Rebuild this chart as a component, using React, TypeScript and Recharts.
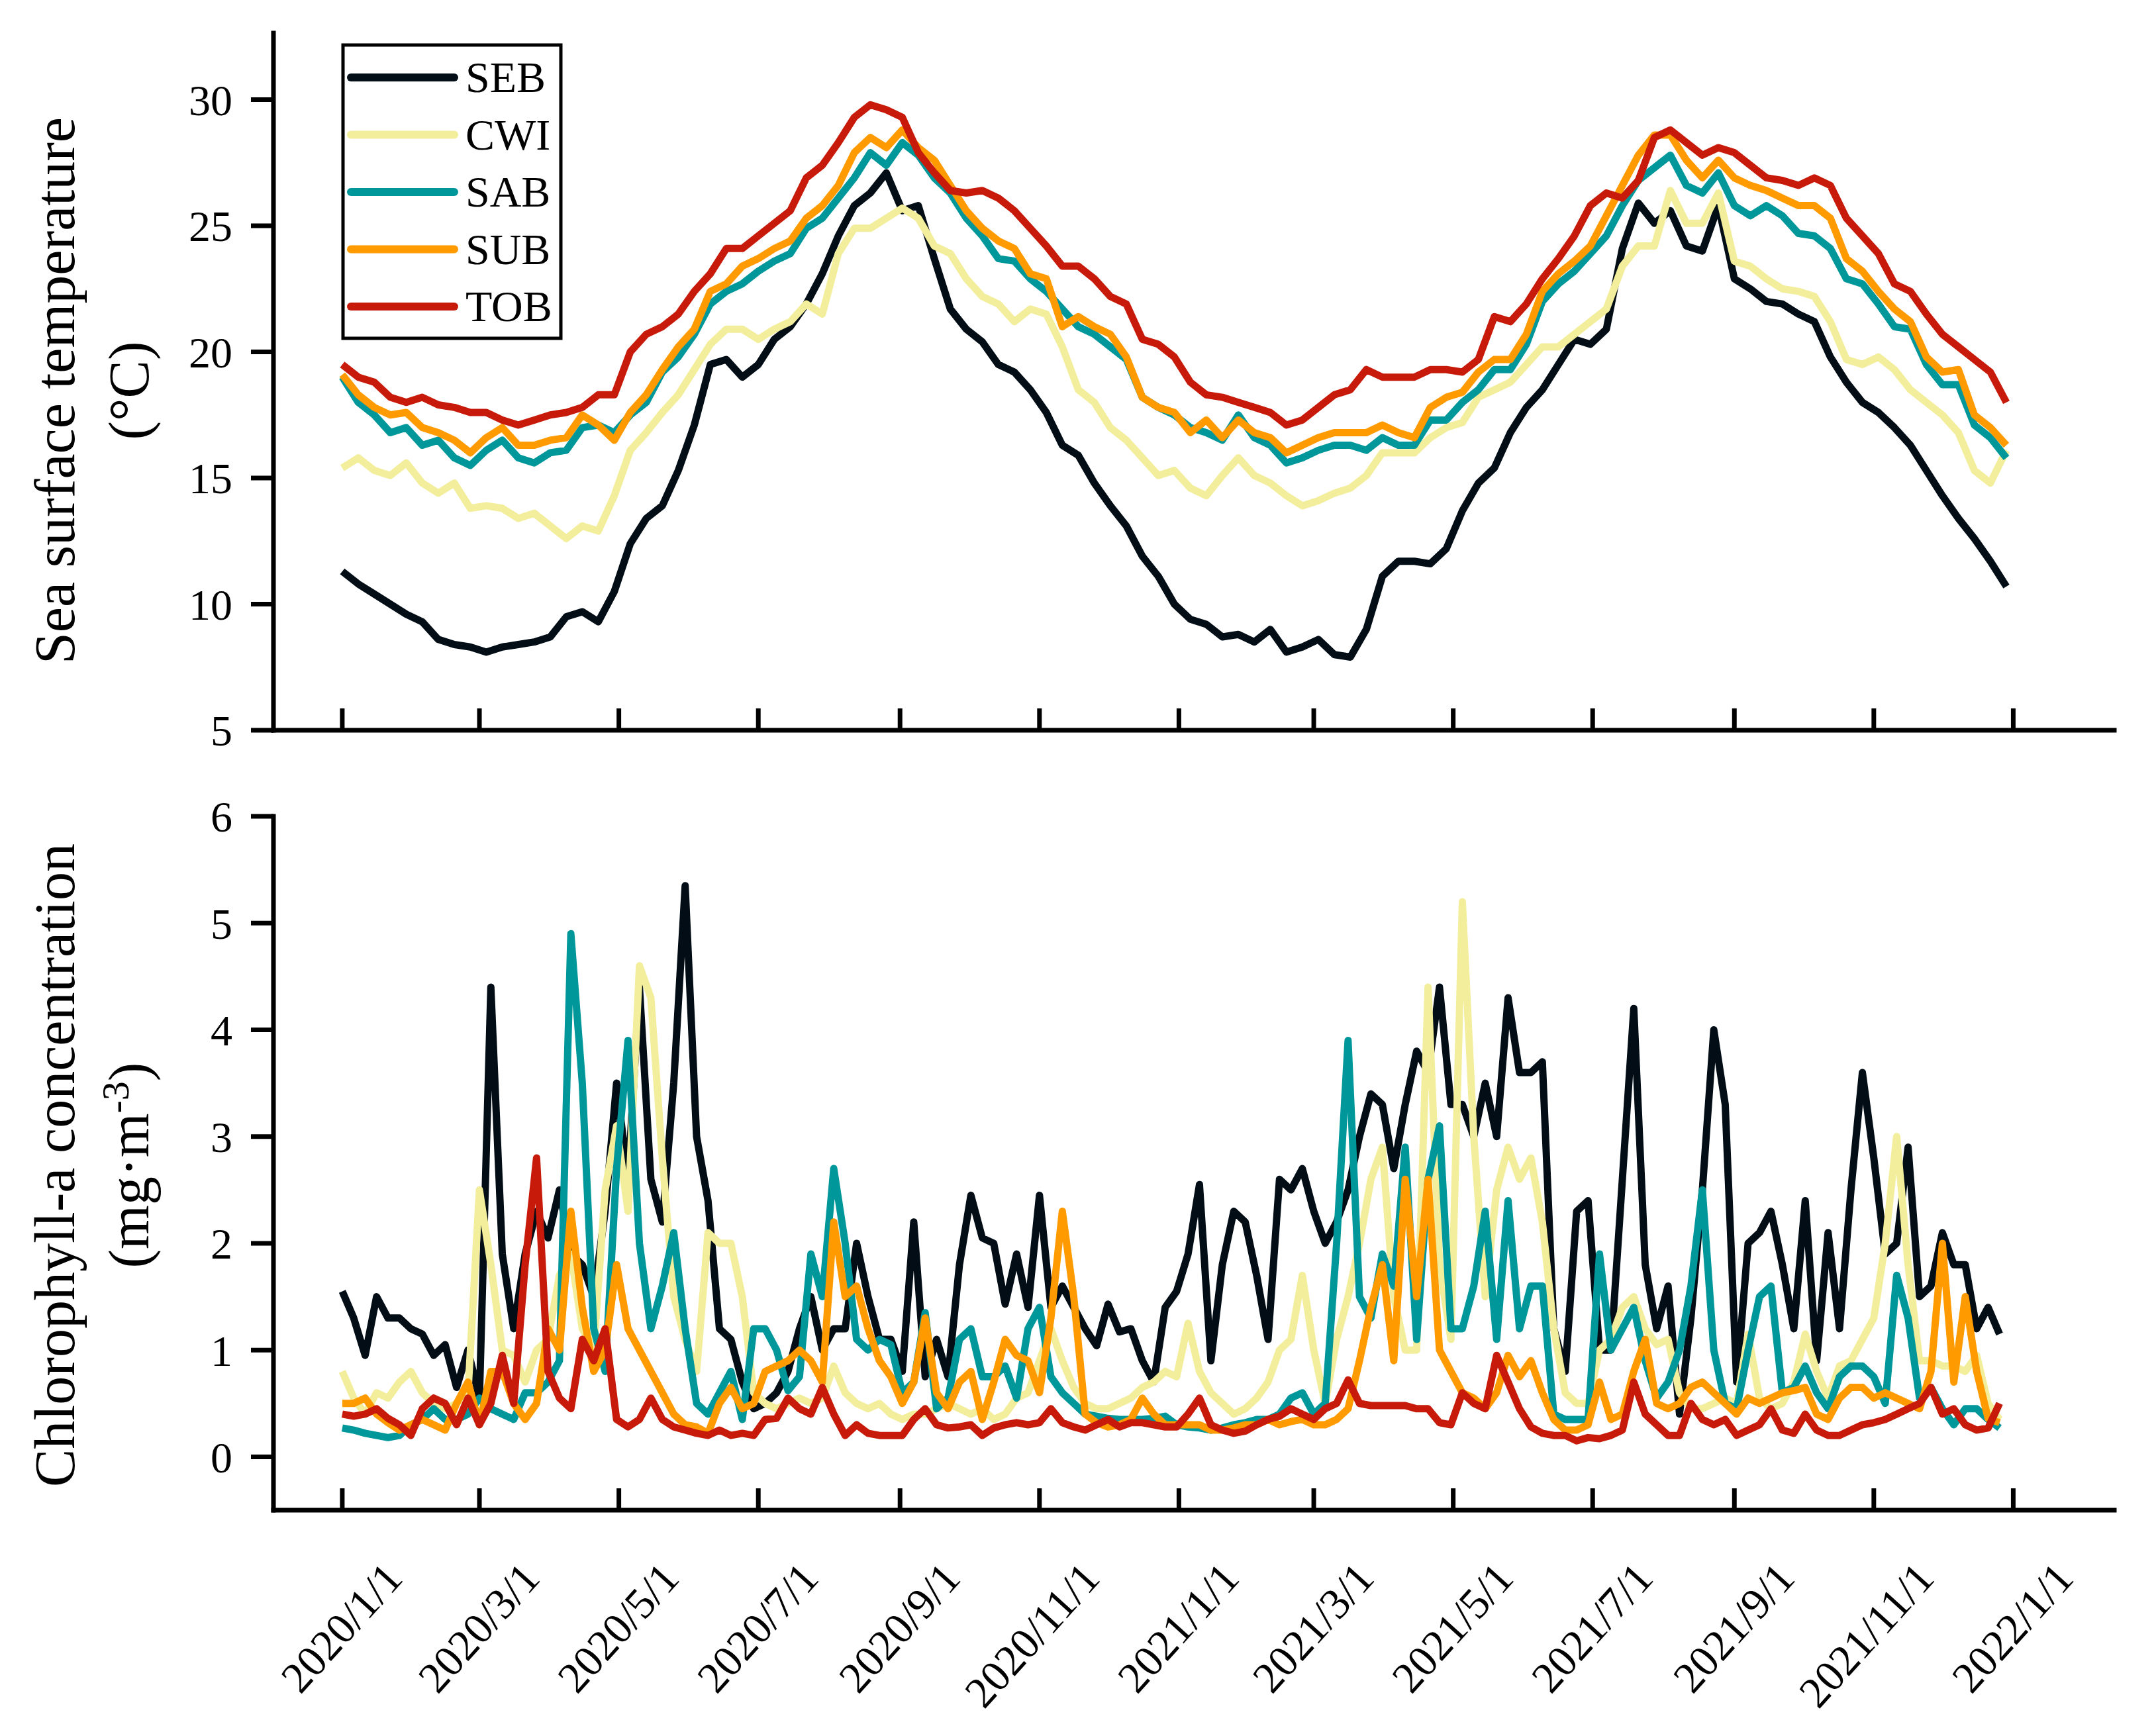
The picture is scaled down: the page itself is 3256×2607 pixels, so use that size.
import { LineChart, Line, XAxis, YAxis } from 'recharts'

// x positions: days since 2020/1/1
const sstDays = [
  0, 7, 14, 21, 28, 35, 42, 49, 56, 63, 70, 77, 84, 91, 98, 105, 112, 119, 126, 133,
  140, 147, 154, 161, 168, 175, 182, 189, 196, 203, 210, 217, 224, 231, 238, 245, 252, 259, 266, 273,
  280, 287, 294, 301, 308, 315, 322, 329, 336, 343, 350, 357, 364, 371, 378, 385, 392, 399, 406, 413,
  420, 427, 434, 441, 448, 455, 462, 469, 476, 483, 490, 497, 504, 511, 518, 525, 532, 539, 546, 553,
  560, 567, 574, 581, 588, 595, 602, 609, 616, 623, 630, 637, 644, 651, 658, 665, 672, 679, 686, 693,
  700, 707, 714, 721, 728,
]

const sstSEB = [
  11.3, 10.8, 10.4, 10.0, 9.6, 9.3, 8.6, 8.4, 8.3, 8.1,
  8.3, 8.4, 8.5, 8.7, 9.5, 9.7, 9.3, 10.5, 12.4, 13.4,
  13.9, 15.3, 17.1, 19.5, 19.7, 19.0, 19.5, 20.5, 21.0, 21.9,
  23.1, 24.6, 25.8, 26.3, 27.1, 25.6, 25.8, 23.7, 21.7, 20.9,
  20.4, 19.5, 19.2, 18.5, 17.6, 16.3, 15.9, 14.8, 13.9, 13.1,
  11.9, 11.1, 10.0, 9.4, 9.2, 8.7, 8.8, 8.5, 9.0, 8.1,
  8.3, 8.6, 8.0, 7.9, 9.0, 11.1, 11.7, 11.7, 11.6, 12.2,
  13.7, 14.8, 15.4, 16.8, 17.8, 18.5, 19.5, 20.5, 20.3, 20.9,
  24.1, 25.9, 25.1, 25.6, 24.2, 24.0, 25.8, 22.9, 22.5, 22.0,
  21.9, 21.5, 21.2, 19.8, 18.8, 18.0, 17.6, 17.0, 16.3, 15.3,
  14.3, 13.4, 12.6, 11.7, 10.7,
]
const sstCWI = [
  15.4, 15.8, 15.3, 15.1, 15.6, 14.8, 14.4, 14.8, 13.8, 13.9,
  13.8, 13.4, 13.6, 13.1, 12.6, 13.1, 12.9, 14.3, 16.1, 16.8,
  17.6, 18.3, 19.3, 20.3, 20.9, 20.9, 20.5, 20.9, 21.2, 21.9,
  21.5, 23.9, 24.9, 24.9, 25.3, 25.7, 25.3, 24.2, 23.9, 22.9,
  22.2, 21.9, 21.2, 21.7, 21.5, 20.2, 18.5, 18.0, 17.0, 16.5,
  15.8, 15.1, 15.3, 14.6, 14.3, 15.1, 15.8, 15.1, 14.8, 14.3,
  13.9, 14.1, 14.4, 14.6, 15.1, 16.0, 16.0, 16.0, 16.6, 17.0,
  17.2, 18.2, 18.5, 18.8, 19.5, 20.2, 20.2, 20.7, 21.2, 21.7,
  23.4, 24.2, 24.2, 26.4, 25.1, 25.1, 26.3, 23.6, 23.4, 22.9,
  22.5, 22.4, 22.2, 21.2, 19.7, 19.5, 19.8, 19.3, 18.5, 18.0,
  17.5, 16.8, 15.3, 14.8, 16.1,
]
const sstSAB = [
  19.0, 18.0, 17.5, 16.8, 17.0, 16.3, 16.5, 15.8, 15.5, 16.1,
  16.5, 15.8, 15.6, 16.0, 16.1, 17.0, 17.1, 16.8, 17.5, 18.0,
  19.2, 19.8, 20.7, 21.9, 22.4, 22.7, 23.2, 23.6, 23.9, 24.9,
  25.3, 26.1, 26.9, 27.9, 27.4, 28.3, 27.8, 26.9, 26.3, 25.3,
  24.6, 23.7, 23.6, 22.9, 22.4, 21.7, 21.0, 20.7, 20.2, 19.7,
  18.2, 17.8, 17.5, 17.0, 16.8, 16.5, 17.5, 16.6, 16.3, 15.6,
  15.8, 16.1, 16.3, 16.3, 16.1, 16.6, 16.3, 16.3, 17.3, 17.3,
  18.0, 18.5, 19.3, 19.3, 20.3, 22.0, 22.7, 23.2, 23.9, 24.6,
  25.8, 26.8, 27.3, 27.8, 26.6, 26.3, 27.1, 25.8, 25.4, 25.8,
  25.4, 24.7, 24.6, 24.1, 22.9, 22.7, 21.9, 21.0, 20.9, 19.5,
  18.7, 18.7, 17.1, 16.6, 15.8,
]
const sstSUB = [
  19.1, 18.3, 17.8, 17.5, 17.6, 17.0, 16.8, 16.5, 16.0, 16.6,
  17.0, 16.3, 16.3, 16.5, 16.6, 17.5, 17.1, 16.5, 17.6, 18.3,
  19.3, 20.2, 20.9, 22.4, 22.7, 23.4, 23.7, 24.1, 24.4, 25.3,
  25.8, 26.6, 27.9, 28.5, 28.1, 28.8, 28.1, 27.6, 26.6, 25.6,
  24.9, 24.4, 24.1, 23.1, 22.9, 21.0, 21.4, 21.0, 20.7, 19.8,
  18.2, 17.8, 17.6, 16.8, 17.3, 16.6, 17.3, 16.8, 16.6, 16.0,
  16.3, 16.6, 16.8, 16.8, 16.8, 17.1, 16.8, 16.6, 17.8, 18.2,
  18.4, 19.2, 19.7, 19.7, 20.7, 22.4, 23.1, 23.6, 24.2, 25.4,
  26.6, 27.8, 28.6, 28.6, 27.6, 26.9, 27.6, 26.9, 26.6, 26.4,
  26.1, 25.8, 25.8, 25.3, 23.7, 23.2, 22.4, 21.7, 21.2, 19.8,
  19.2, 19.3, 17.5, 17.0, 16.3,
]
const sstTOB = [
  19.5, 19.0, 18.8, 18.2, 18.0, 18.2, 17.9, 17.8, 17.6, 17.6,
  17.3, 17.1, 17.3, 17.5, 17.6, 17.8, 18.3, 18.3, 20.0, 20.7,
  21.0, 21.5, 22.4, 23.1, 24.1, 24.1, 24.6, 25.1, 25.6, 26.9,
  27.4, 28.3, 29.3, 29.8, 29.6, 29.3, 27.9, 27.1, 26.4, 26.3,
  26.4, 26.1, 25.6, 24.9, 24.2, 23.4, 23.4, 22.9, 22.2, 21.9,
  20.5, 20.3, 19.8, 18.8, 18.3, 18.2, 18.0, 17.8, 17.6, 17.1,
  17.3, 17.8, 18.3, 18.5, 19.3, 19.0, 19.0, 19.0, 19.3, 19.3,
  19.2, 19.7, 21.4, 21.2, 21.9, 22.9, 23.7, 24.6, 25.8, 26.3,
  26.1, 26.8, 28.5, 28.8, 28.3, 27.8, 28.1, 27.9, 27.4, 26.9,
  26.8, 26.6, 26.9, 26.6, 25.3, 24.6, 23.9, 22.7, 22.4, 21.5,
  20.7, 20.2, 19.7, 19.2, 18.0,
]

const chlDays = [
  0, 5, 10, 15, 20, 25, 30, 35, 40, 45, 50, 55, 60, 65, 70, 75, 80, 85, 90, 95,
  100, 105, 110, 115, 120, 125, 130, 135, 140, 145, 150, 155, 160, 165, 170, 175, 180, 185, 190, 195,
  200, 205, 210, 215, 220, 225, 230, 235, 240, 245, 250, 255, 260, 265, 270, 275, 280, 285, 290, 295,
  300, 305, 310, 315, 320, 325, 330, 335, 340, 345, 350, 355, 360, 365, 370, 375, 380, 385, 390, 395,
  400, 405, 410, 415, 420, 425, 430, 435, 440, 445, 450, 455, 460, 465, 470, 475, 480, 485, 490, 495,
  500, 505, 510, 515, 520, 525, 530, 535, 540, 545, 550, 555, 560, 565, 570, 575, 580, 585, 590, 595,
  600, 605, 610, 615, 620, 625, 630, 635, 640, 645, 650, 655, 660, 665, 670, 675, 680, 685, 690, 695,
  700, 705, 710, 715, 720, 725,
]

const chlSEB = [
  1.55, 1.3, 0.95, 1.5, 1.3, 1.3, 1.2, 1.15, 0.95, 1.05,
  0.65, 1.0, 0.55, 4.4, 1.9, 1.2, 1.9, 2.3, 2.05, 2.5,
  1.9, 1.8, 1.5, 2.3, 3.5, 2.6, 4.4, 2.6, 2.2, 3.5,
  5.35, 3.0, 2.4, 1.2, 1.1, 0.7, 0.45, 0.5, 0.6, 0.8,
  1.2, 1.5, 1.0, 1.2, 1.2, 2.0, 1.5, 1.1, 1.1, 0.8,
  2.2, 0.75, 1.1, 0.75, 1.8, 2.45, 2.05, 2.0, 1.43, 1.9,
  1.4, 2.45, 1.4, 1.6, 1.4, 1.2, 1.04, 1.43, 1.17, 1.2,
  0.9, 0.7, 1.4, 1.55, 1.9, 2.55, 0.9, 1.8, 2.3, 2.2,
  1.7, 1.1, 2.6, 2.5, 2.7, 2.3, 2.0, 2.2, 2.5, 3.0,
  3.4, 3.3, 2.7, 3.3, 3.8, 3.6, 4.4, 3.3, 3.3, 3.0,
  3.5, 3.0, 4.3, 3.6, 3.6, 3.7, 1.2, 0.8, 2.3, 2.4,
  1.0, 1.0, 2.6, 4.2, 1.8, 1.2, 1.6, 0.4, 1.3, 2.5,
  4.0, 3.3, 0.7, 2.0, 2.1, 2.3, 1.8, 1.2, 2.4, 0.9,
  2.1, 1.2, 2.5, 3.6, 2.8, 1.9, 2.0, 2.9, 1.5, 1.6,
  2.1, 1.8, 1.8, 1.2, 1.4, 1.15,
]
const chlCWI = [
  0.8, 0.55, 0.4, 0.6, 0.55, 0.7, 0.8, 0.6, 0.5, 0.45,
  0.5, 0.6, 2.5, 1.8, 1.0, 0.95, 0.7, 1.0, 1.1, 1.7,
  1.9, 1.2, 1.0, 2.5, 3.1, 2.3, 4.6, 4.3, 2.8, 1.5,
  1.1, 0.8, 2.1, 2.0, 2.0, 1.5, 0.6, 0.5, 0.45, 0.5,
  0.55, 0.5, 0.55, 0.85, 0.6, 0.5, 0.45, 0.5, 0.4, 0.35,
  0.4, 0.4, 0.45, 0.5, 0.45, 0.4, 0.45, 0.35, 0.4, 0.55,
  0.6, 0.9, 1.2, 0.9, 0.65, 0.5, 0.45, 0.45, 0.5, 0.55,
  0.65, 0.7, 0.8, 0.75, 1.25, 0.8, 0.6, 0.5, 0.4, 0.45,
  0.55, 0.7, 1.0, 1.1, 1.7, 1.0, 0.5, 1.1, 1.5, 2.0,
  2.6, 2.9, 1.5, 1.0, 1.0, 4.4, 1.8, 1.1, 5.2, 3.0,
  1.5, 2.5, 2.9, 2.6, 2.8, 2.2, 1.2, 0.6, 0.5, 0.5,
  1.0, 1.1, 1.4, 1.5, 1.2, 1.05, 1.1, 0.6, 0.45, 0.45,
  0.5, 0.55, 0.5, 1.15, 0.55, 0.45, 0.5, 0.7, 1.15, 0.8,
  0.55, 0.85, 0.9, 1.1, 1.3, 2.0, 3.0, 1.8, 0.9, 0.9,
  0.85, 0.85, 0.8, 0.95, 0.5, 0.35,
]
const chlSAB = [
  0.27, 0.25, 0.22, 0.2, 0.18, 0.2, 0.3, 0.35, 0.45, 0.35,
  0.35, 0.4, 0.55, 0.45, 0.4, 0.35, 0.6, 0.6, 0.7, 0.9,
  4.9, 3.5, 1.2, 0.8, 2.7, 3.9, 2.0, 1.2, 1.6, 2.1,
  1.2, 0.5, 0.4, 0.6, 0.8, 0.35, 1.2, 1.2, 1.0, 0.62,
  0.75, 1.9, 1.5, 2.7, 2.0, 1.1, 1.0, 1.1, 1.05, 0.6,
  0.7, 1.35, 0.45, 0.55, 1.1, 1.2, 0.75, 0.75, 0.85, 0.55,
  1.2, 1.4, 0.75, 0.6, 0.5, 0.4, 0.38, 0.36, 0.35, 0.35,
  0.35, 0.36, 0.38, 0.3, 0.28, 0.27, 0.25, 0.27, 0.3, 0.32,
  0.35, 0.35, 0.4, 0.55, 0.6, 0.4, 0.5, 2.0, 3.9, 1.5,
  1.3, 1.9, 1.6, 2.9, 1.1, 2.6, 3.1, 1.2, 1.2, 1.6,
  2.3, 1.1, 2.4, 1.2, 1.6, 1.6, 0.4, 0.35, 0.35, 0.35,
  1.9, 1.0, 1.2, 1.4, 0.9, 0.55, 0.7, 1.0, 1.6, 2.5,
  1.0, 0.5, 0.45, 1.0, 1.5, 1.6, 0.6, 0.65, 0.85, 0.6,
  0.45, 0.75, 0.85, 0.85, 0.75, 0.5, 1.7, 1.3, 0.55, 0.65,
  0.45, 0.3, 0.45, 0.45, 0.35, 0.27,
]
const chlSUB = [
  0.5, 0.5, 0.55, 0.4, 0.32, 0.25, 0.3, 0.35, 0.3, 0.25,
  0.5, 0.7, 0.3, 0.8, 0.8, 0.5, 0.35, 0.5, 1.2, 1.0,
  2.3, 1.4, 0.8, 1.0, 1.8, 1.2, 1.0, 0.8, 0.6, 0.4,
  0.3, 0.28, 0.22, 0.5, 0.65, 0.45, 0.5, 0.8, 0.85, 0.9,
  1.0, 0.9, 0.7, 2.2, 1.5, 1.6, 1.2, 0.9, 0.75, 0.5,
  0.7, 1.3, 0.6, 0.45, 0.7, 0.8, 0.35, 0.7, 1.1, 0.95,
  0.9, 0.6, 1.3, 2.3, 1.5, 0.4, 0.32, 0.28, 0.3, 0.35,
  0.55, 0.4, 0.3, 0.3, 0.3, 0.3, 0.25, 0.25, 0.27, 0.3,
  0.3, 0.35, 0.3, 0.33, 0.35, 0.3, 0.3, 0.35, 0.45, 0.9,
  1.4, 1.8, 0.9, 2.6, 1.5, 2.6, 1.0, 0.8, 0.6, 0.55,
  0.45, 0.6, 0.95, 0.75, 0.9, 0.6, 0.35, 0.25, 0.25, 0.3,
  0.7, 0.35, 0.4, 0.8, 1.1, 0.5, 0.45, 0.5, 0.65, 0.7,
  0.6, 0.5, 0.4, 0.55, 0.5, 0.55, 0.6, 0.62, 0.65, 0.4,
  0.35, 0.55, 0.65, 0.65, 0.55, 0.6, 0.55, 0.5, 0.45, 0.8,
  2.0, 0.7, 1.5, 0.8, 0.36, 0.32,
]
const chlTOB = [
  0.4, 0.38, 0.4, 0.45, 0.36, 0.3, 0.2, 0.45, 0.55, 0.5,
  0.3, 0.55, 0.3, 0.5, 0.95, 0.5, 1.8, 2.8, 0.8, 0.55,
  0.45, 1.1, 0.9, 1.2, 0.35, 0.28, 0.35, 0.55, 0.35, 0.28,
  0.25, 0.22, 0.2, 0.25, 0.2, 0.22, 0.2, 0.35, 0.36, 0.55,
  0.45, 0.4, 0.65, 0.4, 0.2, 0.3, 0.22, 0.2, 0.2, 0.2,
  0.35, 0.45, 0.3, 0.27, 0.28, 0.3, 0.2, 0.27, 0.3, 0.32,
  0.3, 0.32, 0.45, 0.32, 0.28, 0.25, 0.3, 0.35, 0.28, 0.32,
  0.32, 0.3, 0.28, 0.28, 0.4, 0.55, 0.3, 0.25, 0.22, 0.24,
  0.3, 0.35, 0.38, 0.45, 0.4, 0.35, 0.45, 0.5, 0.72, 0.5,
  0.48, 0.48, 0.48, 0.48, 0.45, 0.45, 0.32, 0.3, 0.6, 0.5,
  0.45, 0.95, 0.7, 0.45, 0.28, 0.22, 0.2, 0.2, 0.15, 0.18,
  0.17, 0.2, 0.25, 0.7, 0.4, 0.3, 0.2, 0.2, 0.5, 0.35,
  0.3, 0.35, 0.2, 0.25, 0.3, 0.45, 0.25, 0.22, 0.4, 0.25,
  0.2, 0.2, 0.25, 0.3, 0.32, 0.35, 0.4, 0.45, 0.5, 0.65,
  0.4, 0.45, 0.3, 0.25, 0.27, 0.5,
]

const dateTicks = [0, 60, 121, 182, 244, 305, 366, 425, 486, 547, 609, 670, 731]
const dateLabels = [
  '2020/1/1', '2020/3/1', '2020/5/1', '2020/7/1', '2020/9/1', '2020/11/1', '2021/1/1',
  '2021/3/1', '2021/5/1', '2021/7/1', '2021/9/1', '2021/11/1', '2022/1/1',
]
const sstTicks = [5, 10, 15, 20, 25, 30]
const chlTicks = [0, 1, 2, 3, 4, 5, 6]

const regions = ['SEB', 'CWI', 'SAB', 'SUB', 'TOB']
const regionColors = ['#020d16', '#f3ee9b', '#00979a', '#ff9b00', '#c81a0a']

const sstRows = sstDays.map((day, i) => ({
  day, SEB: sstSEB[i], CWI: sstCWI[i], SAB: sstSAB[i], SUB: sstSUB[i], TOB: sstTOB[i],
}))
const chlRows = chlDays.map((day, i) => ({
  day, SEB: chlSEB[i], CWI: chlCWI[i], SAB: chlSAB[i], SUB: chlSUB[i], TOB: chlTOB[i],
}))

const FONT = '"Liberation Serif", "Times New Roman", serif'
const W = 3256
const X_DOMAIN = [-30.1, 775.2]
const axisStyle = { stroke: '#000', strokeWidth: 7, strokeLinecap: 'square' as const }
const yTickStyle = { fontSize: 66, fontFamily: FONT, fill: '#000' }

function DateTick({ x, y, payload, showLabel }: any) {
  const idx = dateTicks.indexOf(payload.value)
  const tx = x + 94
  const ty = y + 105
  return <g>
    <line x1={x} x2={x} y1={y} y2={y - 33} stroke="#000" strokeWidth={7} />
    {showLabel && <text x={tx} y={ty} textAnchor="end" transform={`rotate(-48 ${tx} ${ty})`}
      fontSize={66} fontFamily={FONT} fill="#000">{dateLabels[idx]}</text>}
  </g>
}

function seriesLines() {
  return regions.map((r, i) => <Line key={r} type="linear" dataKey={r} name={r} stroke={regionColors[i]}
    strokeWidth={11} strokeLinejoin="round" dot={false} activeDot={false} isAnimationActive={false} />)
}

export default function App() {
  return <div style={{ position: 'absolute', left: 0, top: 0, width: W, height: 2607, background: '#fff' }}>
    <div style={{ position: 'absolute', left: 0, top: 0 }}>
      <LineChart width={W} height={1200} data={sstRows} margin={{ top: 50, right: 63, bottom: 0, left: 0 }}>
        <XAxis dataKey="day" type="number" domain={X_DOMAIN} allowDataOverflow ticks={dateTicks} interval={0}
          height={97} axisLine={axisStyle} tickLine={false} tickSize={0} tickMargin={0}
          tick={(p: any) => <DateTick {...p} showLabel={false} />} />
        <YAxis type="number" domain={[5, 32.64]} allowDataOverflow ticks={sstTicks} interval={0} width={413}
          axisLine={axisStyle} tickLine={{ stroke: '#000', strokeWidth: 7 }} tickSize={34} tickMargin={28} tick={yTickStyle} />
        {seriesLines()}
      </LineChart>
    </div>
    <div style={{ position: 'absolute', left: 0, top: 1200 }}>
      <LineChart width={W} height={1407} data={chlRows} margin={{ top: 33, right: 63, bottom: 0, left: 0 }}>
        <XAxis dataKey="day" type="number" domain={X_DOMAIN} allowDataOverflow ticks={dateTicks} interval={0}
          height={326} axisLine={axisStyle} tickLine={false} tickSize={0} tickMargin={0}
          tick={(p: any) => <DateTick {...p} showLabel />} />
        <YAxis type="number" domain={[-0.5, 6]} allowDataOverflow ticks={chlTicks} interval={0} width={413}
          axisLine={axisStyle} tickLine={{ stroke: '#000', strokeWidth: 7 }} tickSize={34} tickMargin={28} tick={yTickStyle} />
        {seriesLines()}
      </LineChart>
    </div>
    <svg width={W} height={2607} style={{ position: 'absolute', left: 0, top: 0, pointerEvents: 'none' }}>
      <g fontFamily={FONT} fill="#000" fontSize={86} textAnchor="middle">
        <text transform="translate(112,590) rotate(-90)">Sea surface temperature</text>
        <text transform="translate(224,590) rotate(-90)">(°C)</text>
        <text transform="translate(112,1760) rotate(-90)">Chlorophyll-a concentration</text>
        <text transform="translate(224,1760) rotate(-90)">(mg·m<tspan dy={-30} fontSize={58}>-3</tspan><tspan dy={30}>)</tspan></text>
      </g>
      <rect x={518} y={68} width={329} height={443} fill="#fff" stroke="#000" strokeWidth={5} />
      {regions.map((r, i) => {
        const cy = 117 + i * 86.5
        return <g key={r}>
          <line x1={530} x2={686} y1={cy} y2={cy} stroke={regionColors[i]} strokeWidth={12} strokeLinecap="round" />
          <text x={703} y={cy + 22} fontSize={66} fontFamily={FONT} fill="#000">{r}</text>
        </g>
      })}
    </svg>
  </div>
}
